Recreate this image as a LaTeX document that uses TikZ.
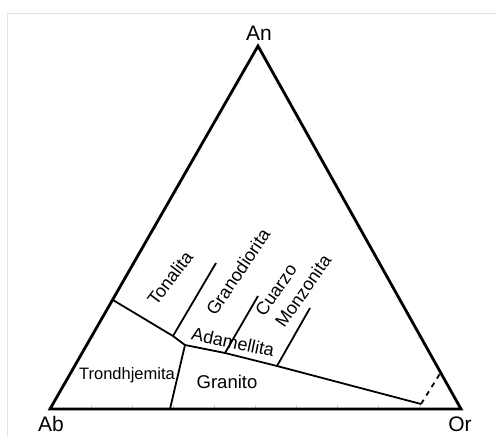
\documentclass[tikz,border=0pt]{standalone}
\usepackage{fontspec}
\setmainfont{Liberation Sans}
\usetikzlibrary{calc}
\definecolor{FrameGray}{HTML}{E2E2E2}
\definecolor{TickGray}{HTML}{D0D0D0}

\begin{document}
\begin{tikzpicture}[x=1pt, y=-1pt,
    corner/.style={font=\fontsize{21}{21}\selectfont, inner sep=0pt},
    field/.style={font=\fontsize{18}{18}\selectfont, inner sep=0pt},
    border/.style={line width=2.8pt, line join=miter},
    split/.style={line width=1.8pt},
    tick/.style={TickGray, line width=0.6pt}]
  \useasboundingbox (0,0) rectangle (496,436);
  \draw[FrameGray, line width=0.8pt] (7,436) -- (7,13) -- (496,13);
  % vertices
  \coordinate (ab) at (50,409);
  \coordinate (or) at (461,409);
  \coordinate (an) at (258,46);
  % ticks every ten percent
  \foreach \i in {1,...,9} {
    \coordinate (tb) at ($(ab)!\i/10!(or)$);
    \draw[tick] (tb) -- ++(0,-4);
    \coordinate (tl) at ($(ab)!\i/10!(an)$);
    \draw[tick] (tl) -- ($(tl)!4pt!-90:(an)$);
    \coordinate (tr) at ($(or)!\i/10!(an)$);
    \draw[tick] (tr) -- ($(tr)!4pt!90:(an)$);
  }
  % field boundaries
  \coordinate (tl1) at (113,300);
  \coordinate (k1) at (173,336);
  \coordinate (k2) at (185,345);
  \coordinate (q1) at (225,353);
  \coordinate (q2) at (277,366);
  \coordinate (e1) at (421,404);
  \coordinate (g1) at (216,263);
  \coordinate (c1) at (258,296);
  \coordinate (m1) at (310,308);
  \coordinate (b1) at (170,409);
  \coordinate (d1) at (441,372);
  \draw[split] (tl1) -- (k1) -- (k2) -- (q1) -- (q2) -- (e1);
  \draw[split] (k1) -- (g1);
  \draw[split] (q1) -- (c1);
  \draw[split] (q2) -- (m1);
  \draw[split] (k2) -- (b1);
  \draw[split, dashed, dash pattern=on 5pt off 5pt] (e1) -- (d1);
  \draw[border] (ab) -- (or) -- (an) -- cycle;
  % labels
  \node[corner] (lan) at (259,33) {An};
  \node[corner] (lab) at (51,424) {Ab};
  \node[corner] (lor) at (460,424) {Or};
  \node[field, rotate=53] (ton) at (170,278) {Tonalita};
  \node[field, rotate=56] (gdi) at (238,272) {Granodiorita};
  \node[field, rotate=55] (cua) at (276,290) {Cuarzo};
  \node[field, rotate=55] (mon) at (303,291) {Monzonita};
  \node[field, rotate=-12] (ada) at (233,342) {Adamellita};
  \node[field, font=\fontsize{16.5}{16.5}\selectfont] (tro) at (127,375) {Trondhjemita};
  \node[field, font=\fontsize{18.5}{18.5}\selectfont] (gra) at (227,382) {Granito};
\end{tikzpicture}
\end{document}
